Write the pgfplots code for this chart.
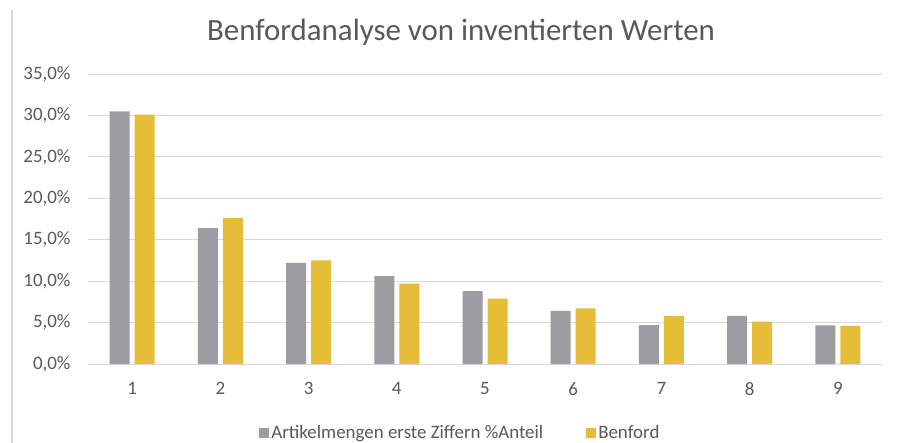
\documentclass[border=0pt]{standalone}
\usepackage{pgfplots}
\pgfplotsset{compat=1.18}
\usepackage{fontspec}
\setmainfont{Carlito}
\definecolor{greybar}{HTML}{9C9CA2}
\definecolor{goldbar}{HTML}{E6BD37}
\definecolor{gridc}{HTML}{D9D9D9}
\definecolor{txt}{HTML}{595959}
\begin{document}
\begin{tikzpicture}[x=1bp,y=1bp]
\useasboundingbox (0,0) rectangle (897,443);
\fill[white] (0,0) rectangle (897,443);
\draw[gridc, line width=1.2bp] (12,0) -- (12,433);
\node[text=txt, font=\fontsize{31}{36}\selectfont] at (461,411) {Benfordanalyse von inventierten Werten};
\begin{axis}[
  at={(88bp,79bp)}, anchor=south west,
  scale only axis, width=794bp, height=290bp,
  ybar=5bp, bar width=20bp,
  xmin=0.5, xmax=9.5, ymin=0, ymax=35,
  xtick={1,...,9}, ytick={0,5,...,35},
  axis x line*=bottom, axis y line*=left,
  x axis line style={gridc, line width=0.8bp, -},
  y axis line style={draw=none},
  ymajorgrids, grid style={gridc, line width=0.8bp},
  major tick length=0pt,
  tick label style={text=txt, font=\fontsize{19}{22}\selectfont},
  /pgf/number format/assume math mode=true,
  yticklabel={\pgfmathprintnumber[fixed,fixed zerofill,precision=1,use comma]{\tick}\%},
  yticklabel style={xshift=-14bp},
  xticklabel style={yshift=-15bp},
  legend style={at={(0.469,-0.238)}, anchor=center, draw=none, legend columns=2,
    font=\fontsize{19}{22}\selectfont, text=txt,
    /tikz/every even column/.append style={column sep=41bp}},
  legend image code/.code={\fill[#1] (-3bp,-5bp) rectangle (7bp,5bp);},
]
\addplot[fill=greybar, draw=none] coordinates {(1,30.5) (2,16.4) (3,12.2) (4,10.6) (5,8.8) (6,6.4) (7,4.7) (8,5.8) (9,4.65)};
\addplot[fill=goldbar, draw=none] coordinates {(1,30.1) (2,17.6) (3,12.5) (4,9.7) (5,7.9) (6,6.7) (7,5.8) (8,5.1) (9,4.6)};
\legend{Artikelmengen erste Ziffern \%Anteil, Benford}
\end{axis}
\end{tikzpicture}
\end{document}
